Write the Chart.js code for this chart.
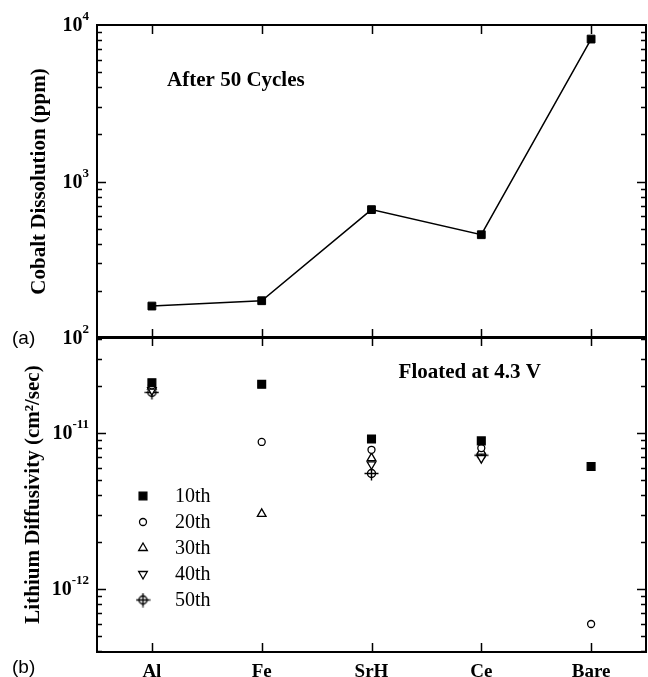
<!DOCTYPE html>
<html>
<head>
<meta charset="utf-8">
<script src="https://cdn.jsdelivr.net/npm/chart.js@4.4.0/dist/chart.umd.min.js"></script>
<style>
  html, body { margin: 0; padding: 0; background: #fff; }
  #wrap { position: relative; width: 648px; height: 677px; }
  .box { position: absolute; left: 0; width: 648px; }
  #boxA { top: 0; height: 350px; }
  #boxB { top: 330px; height: 347px; }
</style>
</head>
<body>
<div id="wrap">
  <div class="box" id="boxA"><canvas id="topChart"></canvas></div>
  <div class="box" id="boxB"><canvas id="botChart"></canvas></div>
</div>
<script>
// data
const categories = ['Al', 'Fe', 'SrH', 'Ce', 'Bare'];
const cobaltPpm = [160, 173, 661, 457, 8130];

const cycleLabels = ['10th', '20th', '30th', '40th', '50th'];
const diff10th = [2.1e-11, 2.05e-11, 9.15e-12, 8.9e-12, 6.1e-12];
const diff20th = [2.02e-11, 8.76e-12, 7.8e-12, 8.0e-12, 5.97e-13];
const diff30th = [1.98e-11, 3.03e-12, 6.9e-12, 7.6e-12, null];
const diff40th = [1.88e-11, null, 6.3e-12, 6.9e-12, null];
const diff50th = [1.82e-11, null, 5.5e-12, 7.2e-12, null];

// decade tick labels (10^n)
const topTickExps = [2, 3, 4];
const botTickExps = [-12, -11];

const serif = '"Liberation Serif", "Times New Roman", serif';

function crossCircle() {
  const c = document.createElement('canvas');
  c.width = 15; c.height = 15;
  const g = c.getContext('2d');
  g.strokeStyle = '#000';
  g.lineWidth = 1.4;
  g.beginPath(); g.arc(7.5, 7.5, 4, 0, Math.PI * 2); g.stroke();
  g.beginPath();
  g.moveTo(7.5, 0.5); g.lineTo(7.5, 14.5);
  g.moveTo(0.5, 7.5); g.lineTo(14.5, 7.5);
  g.stroke();
  return c;
}

const markStyles = ['rect', 'circle', 'triangle', 'triangle', crossCircle()];
const markRot = [0, 0, 0, 180, 0];
const markRadius = [5.5, 3.5, 5, 5, 7];
const markFill = ['#000', '#fff', '#fff', '#fff', 'rgba(0,0,0,0)'];

const framePlugin = {
  id: 'frame',
  afterDraw(chart, args, opts) {
    const { ctx, chartArea: a } = chart;
    const x = chart.scales.x, y = chart.scales.y;
    ctx.save();
    ctx.strokeStyle = '#000';
    ctx.fillStyle = '#000';
    ctx.lineWidth = 2;
    ctx.strokeRect(a.left, a.top, a.right - a.left, a.bottom - a.top);

    // inward ticks
    ctx.lineWidth = 1.5;
    ctx.beginPath();
    categories.forEach((c, i) => {
      const px = Math.round(x.getPixelForValue(i)) + 0.5;
      ctx.moveTo(px, a.top); ctx.lineTo(px, a.top + 9);
      ctx.moveTo(px, a.bottom); ctx.lineTo(px, a.bottom - 9);
    });
    const lo = Math.floor(Math.log10(y.min)), hi = Math.ceil(Math.log10(y.max));
    for (let d = lo; d <= hi; d++) {
      for (let m = 1; m < 10; m++) {
        const v = m * Math.pow(10, d);
        if (v < y.min * 1.001 || v > y.max * 0.999) continue;
        const py = Math.round(y.getPixelForValue(v)) + 0.5;
        const len = m === 1 ? 9 : 5;
        ctx.moveTo(a.left, py); ctx.lineTo(a.left + len, py);
        ctx.moveTo(a.right, py); ctx.lineTo(a.right - len, py);
      }
    }
    ctx.stroke();

    // decade labels 10^n
    ctx.textAlign = 'right';
    ctx.textBaseline = 'middle';
    opts.exps.forEach(e => {
      const py = y.getPixelForValue(Math.pow(10, e));
      const ex = String(e);
      ctx.font = 'bold 13px ' + serif;
      const ew = ctx.measureText(ex).width;
      const right = a.left - 8;
      ctx.fillText(ex, right, py - 8);
      ctx.font = 'bold 20px ' + serif;
      ctx.fillText('10', right - ew, py + 1);
    });

    // annotation text
    ctx.textAlign = 'center';
    ctx.font = 'bold 21px ' + serif;
    ctx.fillText(opts.note, a.left + opts.noteX * (a.right - a.left), a.top + opts.noteY * (a.bottom - a.top));

    // panel label
    ctx.textAlign = 'left';
    ctx.font = '19px "Liberation Sans", Arial, sans-serif';
    ctx.fillText(opts.panel, 12, opts.panelY);

    // legend inside plot
    if (opts.legend) {
      chart.data.datasets.forEach((ds, i) => {
        const lx = a.left + 46, ly = a.top + 159 + 26 * i;
        ctx.fillStyle = ds.pointBackgroundColor;
        ctx.strokeStyle = '#000';
        ctx.lineWidth = ds.pointBorderWidth;
        Chart.helpers.drawPoint(ctx, {
          pointStyle: ds.pointStyle, rotation: ds.pointRotation,
          radius: ds.pointRadius, borderWidth: ds.pointBorderWidth
        }, lx, ly);
        ctx.fillStyle = '#000';
        ctx.font = '20px ' + serif;
        ctx.fillText(ds.label, a.left + 78, ly + 1);
      });
    }
    ctx.restore();
  }
};

function baseX(showLabels) {
  return {
    type: 'category',
    labels: categories,
    offset: true,
    grid: { display: false, drawTicks: false },
    border: { display: false },
    ticks: {
      display: showLabels,
      color: '#000',
      padding: 9,
      font: { family: serif, size: 19, weight: 'bold' }
    },
    afterFit: s => { s.height = showLabels ? 25 : 0; }
  };
}

function baseY(min, max, title, pad) {
  return {
    type: 'logarithmic',
    min: min,
    max: max,
    grid: { display: false, drawTicks: false },
    border: { display: false },
    ticks: { display: false },
    title: {
      display: true,
      text: title,
      color: '#000',
      padding: { top: pad, bottom: 0 },
      font: { family: serif, size: 21, weight: 'bold' }
    },
    afterFit: s => { s.width = 97; }
  };
}

new Chart(document.getElementById('topChart'), {
  type: 'line',
  data: {
    labels: categories,
    datasets: [{
      label: 'Cobalt',
      data: cobaltPpm,
      borderColor: '#000',
      borderWidth: 1.5,
      tension: 0,
      pointStyle: 'rect',
      pointRadius: 5.5,
      pointBackgroundColor: '#000',
      pointBorderColor: '#000',
      pointBorderWidth: 1
    }]
  },
  options: {
    responsive: true,
    maintainAspectRatio: false,
    animation: false,
    layout: { autoPadding: false, padding: { top: 25, right: 2, bottom: 12, left: 0 } },
    scales: {
      x: baseX(false),
      y: baseY(100, 10000, 'Cobalt Dissolution (ppm)', 27)
    },
    plugins: {
      legend: { display: false },
      tooltip: { enabled: false },
      frame: { exps: topTickExps, note: 'After 50 Cycles', noteX: 0.253, noteY: 0.176, panel: '(a)', panelY: 339, legend: false }
    }
  },
  plugins: [framePlugin]
});

const series = [diff10th, diff20th, diff30th, diff40th, diff50th];

new Chart(document.getElementById('botChart'), {
  type: 'line',
  data: {
    labels: categories,
    datasets: series.map((vals, i) => ({
      label: cycleLabels[i],
      data: vals,
      showLine: false,
      pointStyle: markStyles[i],
      pointRotation: markRot[i],
      pointRadius: markRadius[i],
      pointBackgroundColor: markFill[i],
      pointBorderColor: '#000',
      pointBorderWidth: 1.3
    }))
  },
  options: {
    responsive: true,
    maintainAspectRatio: false,
    animation: false,
    layout: { autoPadding: false, padding: { top: 7, right: 2, bottom: 0, left: 0 } },
    scales: {
      x: baseX(true),
      y: baseY(3.95e-13, 4.12e-11, 'Lithium Diffusivity (cm\u00B2/sec)', 21)
    },
    plugins: {
      legend: { display: false },
      tooltip: { enabled: false },
      frame: { exps: botTickExps, note: 'Floated at 4.3 V', noteX: 0.679, noteY: 0.114, panel: '(b)', panelY: 338, legend: true }
    }
  },
  plugins: [framePlugin]
});
</script>
</body>
</html>
